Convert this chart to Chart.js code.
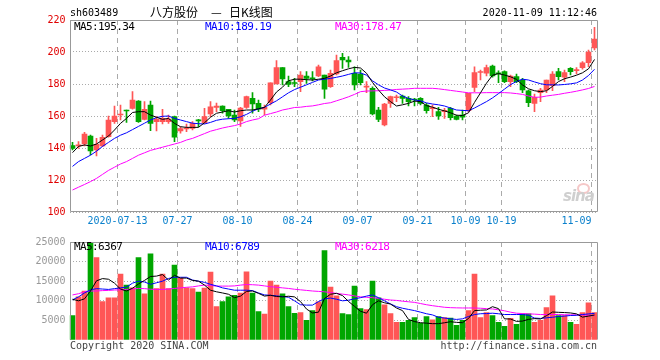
<!DOCTYPE html>
<html>
<head>
<meta charset="utf-8">
<title>八方股份 日K线图</title>
<script src="https://cdn.jsdelivr.net/npm/chart.js@4.4.1/dist/chart.umd.min.js"></script>
<style>
  body { margin: 0; background: #fff; }
  #box { position: relative; width: 660px; height: 360px; overflow: hidden; background: #fff; }
  #box canvas { position: absolute; left: 0; }
  .txt { position: absolute; font: 10px "DejaVu Sans Mono", monospace; line-height: 10px; white-space: pre; color: #000; }
  .ma { font-size: 11px; line-height: 11px; letter-spacing: -0.6px; }
  .cjk { font: 12px "Noto Sans CJK SC", sans-serif; line-height: 12px; }
  .foot { color: #444; }
</style>
</head>
<body>
<div id="box">
  <canvas id="kline" width="660" height="232" style="top:0"></canvas>
  <canvas id="vol" width="660" height="128" style="top:232px"></canvas>

  <div class="txt" style="left:70px;top:8px">sh603489</div>
  <div class="txt cjk" style="left:150px;top:6px">八方股份</div>
  <div class="txt cjk" style="left:211px;top:6px">—</div>
  <div class="txt cjk" style="left:229px;top:6px">日K线图</div>
  <div class="txt" style="right:63px;top:8px">2020-11-09 11:12:46</div>

  <div class="txt ma" id="ma5Txt" style="left:74px;top:21px;color:#000"></div>
  <div class="txt ma" id="ma10Txt" style="left:205px;top:21px;color:#0000ff"></div>
  <div class="txt ma" id="ma30Txt" style="left:335px;top:21px;color:#ff00ff"></div>

  <div class="txt ma" id="vma5Txt" style="left:74px;top:241px;color:#000"></div>
  <div class="txt ma" id="vma10Txt" style="left:205px;top:241px;color:#0000ff"></div>
  <div class="txt ma" id="vma30Txt" style="left:335px;top:241px;color:#ff00ff"></div>

  <div style="position:absolute;left:577px;top:183px;width:9px;height:7px;border:2px solid #f5c8c8;border-radius:50%"></div>
  <div style="position:absolute;left:563px;top:189px;font:italic bold 15px 'DejaVu Sans',sans-serif;line-height:15px;color:#cfcfcf;letter-spacing:-1px">sina</div>

  <div class="txt foot" style="left:70px;top:341px">Copyright 2020 SINA.COM</div>
  <div class="txt foot" style="right:63px;top:341px">http://finance.sina.com.cn</div>
</div>

<script>
// ===================== 数据 =====================
var dates = [
  "2020-07-01","2020-07-02","2020-07-03","2020-07-06","2020-07-07","2020-07-08","2020-07-09","2020-07-10",
  "2020-07-13","2020-07-14","2020-07-15","2020-07-16","2020-07-17","2020-07-20","2020-07-21","2020-07-22",
  "2020-07-23","2020-07-24","2020-07-27","2020-07-28","2020-07-29","2020-07-30","2020-07-31",
  "2020-08-03","2020-08-04","2020-08-05","2020-08-06","2020-08-07","2020-08-10","2020-08-11","2020-08-12",
  "2020-08-13","2020-08-14","2020-08-17","2020-08-18","2020-08-19","2020-08-20","2020-08-21","2020-08-24",
  "2020-08-25","2020-08-26","2020-08-27","2020-08-28","2020-08-31",
  "2020-09-01","2020-09-02","2020-09-03","2020-09-04","2020-09-07","2020-09-08","2020-09-09","2020-09-10",
  "2020-09-11","2020-09-14","2020-09-15","2020-09-16","2020-09-17","2020-09-18","2020-09-21","2020-09-22",
  "2020-09-23","2020-09-24","2020-09-25","2020-09-28","2020-09-29","2020-09-30",
  "2020-10-09","2020-10-12","2020-10-13","2020-10-14","2020-10-15","2020-10-16","2020-10-19","2020-10-20",
  "2020-10-21","2020-10-22","2020-10-23","2020-10-26","2020-10-27","2020-10-28","2020-10-29","2020-10-30",
  "2020-11-02","2020-11-03","2020-11-04","2020-11-05","2020-11-06","2020-11-09"
];

// 横轴刻度
var tickDates = ["2020-07-13","2020-07-27","2020-08-10","2020-08-24","2020-09-07","2020-09-21","2020-10-09","2020-10-19","2020-11-09"];
var tickTexts = ["2020-07-13","07-27","08-10","08-24","09-07","09-21","10-09","10-19","11-09"];

// K线 开高低收
var opens = [
  141.5, 141.3, 142.5, 147.5, 138.75, 141.25, 147.1, 156.5, 160.6, 163.5,
  164.8, 169.4, 157.9, 166.9, 156.5, 156.5, 156.5, 159.6, 150.6, 151.9,
  152.3, 157.5, 155.8, 161.25, 165.4, 166.25, 164.2, 160.6, 157, 165.4,
  171, 167.9, 164.2, 168.3, 180, 190.2, 181.5, 180.9, 181.5, 185,
  183.8, 185, 185.6, 178.3, 186.25, 196.7, 195, 186.7, 186.25, 178,
  177.3, 163.75, 154.4, 167.9, 171.4, 172.5, 171, 170.6, 171, 166.9,
  164.6, 162.7, 162.7, 164.8, 160, 160.6, 163.3, 177.9, 187.2, 186.7,
  191.25, 186.9, 187.7, 181.5, 184.6, 182.5, 175.8, 167.9, 174.6, 176.25,
  179, 187.7, 184.2, 189.8, 188.4, 190.2, 193.3, 202.5
];
var highs = [
  143.5, 144, 149.8, 148.1, 146, 148.1, 160, 166.25, 166.9, 163.75,
  175.2, 169.6, 169, 169.4, 159.6, 164.2, 160.6, 160, 153.3, 155,
  156.5, 157.9, 164.8, 169, 168, 166.3, 164.2, 163.75, 165.4, 172.5,
  174.6, 170, 166.9, 180.8, 194.6, 190.2, 185, 183.5, 187.7, 187.7,
  187.7, 191.9, 185.6, 188.75, 198.1, 199.2, 197.1, 190.8, 188.75, 181.5,
  178.3, 165.4, 167.9, 172.5, 173.1, 173.1, 172.1, 171, 171.5, 167.9,
  166.9, 165.4, 164.8, 165.4, 160.6, 163.75, 174.2, 190.8, 188.75, 191.9,
  191.9, 188.3, 188.3, 185.6, 186.25, 183.5, 176.25, 173.75, 177.3, 182.5,
  187.7, 189.8, 188.75, 190.2, 190.2, 194, 201.25, 215.4
];
var lows = [
  138.75, 139.8, 141.25, 135.6, 135, 140.8, 146.7, 155.4, 157.5, 156,
  164.2, 156, 157.5, 150.8, 150.6, 155, 155.4, 144, 149.2, 150.2,
  151.25, 153.3, 155.4, 159.6, 162.7, 161.7, 158.5, 156.5, 153.5, 164.8,
  161.7, 162.7, 160.6, 166.9, 180, 179.4, 178.3, 178.3, 175.2, 180.4,
  181.9, 184.6, 171, 177.9, 185.6, 189.8, 190.4, 176.25, 179.4, 174.6,
  160.6, 156.5, 153.75, 165.4, 169, 167.9, 166.25, 166.25, 167, 161.7,
  159.6, 157.9, 158.5, 157.5, 157.5, 157.5, 162.7, 175.2, 182.5, 185,
  184.2, 180.8, 180.8, 178.3, 180.8, 174.6, 165.8, 162.7, 169, 174.6,
  175.8, 182.5, 181.5, 185.6, 186.25, 189.2, 190.8, 201.25
];
var closes = [
  139.8, 141.9, 148.75, 138.1, 142.3, 146.7, 157.5, 160, 161.2, 163.1,
  170, 156.5, 164.2, 155.4, 157.9, 158.5, 158.1, 146.7, 152.1, 152.3,
  155.4, 157, 159.6, 165.8, 166.25, 163.3, 160, 157.5, 165, 172.1,
  167.5, 164.2, 165.4, 180.8, 190.2, 183.1, 179.8, 180.3, 185.6, 183.5,
  183.2, 190.8, 176.7, 186.7, 194.6, 195, 193.75, 179.4, 180.8, 178.6,
  161.25, 157.9, 167.5, 172.1, 172, 171, 169, 170, 167.9, 163.3,
  165.2, 160, 163.5, 159, 157.9, 159.2, 174.2, 187.1, 187.8, 190.2,
  185, 186.3, 181.5, 185, 181.5, 176.25, 168.3, 171.7, 176.25, 182.5,
  186.25, 184.6, 187.1, 187.7, 188.8, 193.3, 200, 208.1
];

// 均线
var ma5 = [
  137.1, 141, 141.9, 141.25, 142.5, 145, 147.5, 151.25, 155.4, 158.5,
  162.2, 162.7, 162.7, 160.6, 159.2, 157.9, 158.5, 155.4, 153.3, 152.9,
  152.9, 152.9, 155.8, 159.2, 161.7, 162.5, 163.3, 162.5, 163.3, 163.75,
  163.75, 164.5, 165.4, 170, 175, 178, 182, 183, 183, 182.7,
  182.5, 183, 183.5, 185, 187, 188.3, 189.5, 190.4, 190, 186.7,
  181, 176.25, 172, 169, 166.25, 167, 167.9, 169.3, 169, 166.5,
  165.5, 164.2, 163.2, 162, 160.5, 160.3, 162, 168.5, 174.5, 180.5,
  185.5, 186.5, 185.6, 184.5, 182.9, 179.4, 177, 175.8, 175.2, 175.8,
  178.5, 181.5, 183.3, 184.3, 185.5, 187, 189.5, 195.34
];
var ma10 = [
  128.5, 131.5, 133.5, 135.5, 138, 141, 143.5, 146, 148, 149.5,
  151.5, 153.5, 155.5, 157.5, 159, 159.8, 160, 158.5, 157.5, 156.5,
  155.5, 155.2, 155, 156, 157.3, 158, 158.3, 158.5, 159.5, 161,
  163, 164.5, 165.4, 167.5, 169.5, 172, 174.5, 176.5, 178, 179.5,
  181, 182.5, 183, 183.5, 184.2, 185, 186, 187, 186.9, 185.5,
  182, 179.5, 177.5, 176.3, 175, 172.5, 171, 170, 169.5, 168.2,
  167.5, 167, 166.25, 165, 163.75, 163.5, 163.3, 165, 167, 169,
  171.3, 174, 176.8, 179.6, 181.6, 183, 182.5, 181.3, 180.2, 179.5,
  179.5, 179.4, 179.7, 180.1, 180.7, 182.5, 185.3, 189.19
];
var ma30 = [
  113.75, 115.5, 117.2, 119, 121, 123.5, 126, 128, 130, 131.5,
  133.5, 135.5, 137, 138.5, 139.5, 140.5, 141.5, 142.5, 143.5, 145,
  146, 147.5, 149, 150.5, 151.5, 152.5, 153.3, 154, 155, 156.5,
  157.5, 158.3, 160.5, 161.5, 162.5, 163.75, 164.5, 165.3, 165.5, 166,
  166.3, 167, 167.8, 168.3, 169.5, 170.7, 172, 173.5, 175.2, 175.6,
  175.7, 175.8, 176, 176.2, 176.6, 176.8, 177, 177.3, 177.3, 177.3,
  177.3, 177, 176.5, 176, 175.5, 175, 174.5, 174.5, 174.5, 174.6,
  174.6, 174.6, 174.6, 174.4, 174, 173.5, 172.5, 171.7, 171.8, 172.5,
  173, 173.5, 174.2, 174.8, 175.5, 176.3, 177.2, 178.47
];

// 成交量(手)
var volumes = [
  6250, 11000, 12500, 24800, 21000, 9800, 10750, 10750, 16800, 14000,
  13300, 21000, 11800, 22000, 13100, 16800, 13100, 19100, 15800, 13300,
  13100, 12250, 13250, 17300, 8500, 9800, 11000, 11400, 12000, 17400,
  12000, 7250, 6600, 15000, 14000, 11800, 8500, 6800, 7000, 5000,
  7500, 9750, 22800, 13500, 11250, 6750, 6500, 13750, 8000, 7750,
  15000, 10750, 9000, 6750, 4500, 4500, 5000, 5750, 4250, 6000,
  5150, 6000, 5750, 5600, 3750, 5000, 7500, 16800, 5750, 7000,
  6250, 4500, 3500, 5500, 4000, 6650, 6650, 4500, 5000, 8300,
  11250, 6250, 6250, 4500, 4000, 7000, 9500, 7000
];
var vma5 = [
  10400, 10000, 10500, 12500, 15100, 15667, 15500, 14500, 13000, 12500,
  13200, 14300, 15200, 16200, 16300, 16700, 15300, 16500, 15800, 15800,
  15200, 15000, 14000, 12700, 12300, 12000, 11667, 10800, 11200, 12400,
  12500, 11900, 11200, 11400, 11100, 11000, 11167, 11000, 9800, 7900,
  6900, 7100, 10600, 11667, 11900, 11333, 9833, 8583, 7333, 6833,
  9000, 10000, 9500, 9167, 8167, 7500, 5250, 4700, 4417, 4300,
  4167, 4167, 4400, 4667, 4500, 4417, 5500, 7500, 7600, 7667,
  8500, 8000, 5400, 5350, 4750, 4830, 5260, 5460, 5360, 6220,
  7140, 7060, 7000, 6900, 6667, 5833, 6100, 6367
];
var vma10 = [
  10250, 11000, 12000, 12800, 13100, 13000, 12900, 13100, 13300, 13500,
  14500, 15000, 14800, 14200, 14600, 15000, 15700, 16000, 16000, 16000,
  15300, 15000, 14700, 14200, 13800, 13300, 13000, 12700, 12700, 12700,
  12600, 12000, 11500, 11400, 11250, 11100, 10900, 10000, 9000, 8900,
  8900, 9800, 10500, 10700, 10400, 10000, 10150, 10500, 10800, 11200,
  11500, 10800, 10000, 9200, 8500, 8100, 7800, 7500, 7100, 6700,
  6400, 5800, 5600, 5400, 5250, 5400, 6000, 6500, 6700, 6750,
  6833, 6700, 6500, 6500, 6500, 6500, 6300, 5600, 5500, 5667,
  5800, 6000, 6100, 6250, 6300, 6500, 6650, 6789
];
var vma30 = [
  11500, 11800, 12300, 12500, 12500, 12600, 12650, 12750, 12800, 12900,
  13000, 13150, 13100, 12950, 12900, 12900, 13000, 13150, 13300, 13450,
  13550, 13800, 14000, 13900, 13750, 13750, 13750, 13800, 14000, 14150,
  14100, 14000, 13800, 13600, 13450, 13300, 13150, 12950, 12800, 12650,
  12500, 12400, 12300, 12100, 11900, 11700, 11500, 11250, 11000, 10900,
  10800, 10600, 10400, 10200, 10100, 9900, 9750, 9600, 9300, 9000,
  8750, 8550, 8350, 8250, 8200, 8170, 8170, 8170, 8100, 8000,
  7920, 7700, 7450, 7100, 6833, 6750, 6667, 6600, 6500, 6500,
  6500, 6500, 6450, 6420, 6400, 6400, 6300, 6218
];

// ===================== 样式 =====================
var UP = "#ff5656";
var DOWN = "#00a600";
var MONO = '"DejaVu Sans Mono", monospace';

function isUp(i) { return closes[i] >= opens[i]; }
function barColor(c) { return isUp(c.dataIndex) ? UP : DOWN; }

var gridAt = new Set(tickDates.map(function (d) { return dates.indexOf(d); }));
var tickAt = {};
tickDates.forEach(function (d, j) { tickAt[dates.indexOf(d)] = tickTexts[j]; });

// 外框
var frame = {
  id: "frame",
  afterDraw: function (chart, args, opts) {
    var ctx = chart.ctx, a = chart.chartArea;
    var l = Math.round(a.left) + 0.5, r = a.right, t = a.top + 0.5, b = a.bottom - 0.5;
    ctx.save();
    ctx.strokeStyle = "#999";
    ctx.lineWidth = 1;
    ctx.beginPath();
    ctx.moveTo(l, b);
    ctx.lineTo(l, t);
    ctx.lineTo(r, t);
    ctx.lineTo(r, b);
    if (opts.bottom) ctx.lineTo(l, b);
    ctx.stroke();
    ctx.restore();
  }
};

function xScale(showLabels) {
  return {
    offset: true,
    grid: {
      offset: true,
      drawTicks: false,
      lineWidth: 1,
      color: function (c) { return gridAt.has(c.index) ? "#aaa" : "rgba(0,0,0,0)"; },
      borderDash: [5, 4]
    },
    border: { display: false, dash: [5, 4] },
    ticks: {
      display: showLabels,
      autoSkip: false,
      maxRotation: 0,
      minRotation: 0,
      align: "inner",
      labelOffset: -3,
      padding: 3,
      color: "#0a80cc",
      font: { family: MONO, size: 10 },
      callback: function (v, i) { return tickAt[i] || ""; }
    },
    afterFit: function (s) { s.height = 20; }
  };
}

function maLine(data, color) {
  return {
    type: "line",
    data: data,
    borderColor: color,
    borderWidth: 1,
    pointRadius: 0,
    tension: 0,
    order: 0
  };
}

// ===================== K线图 =====================
var kline = new Chart(document.getElementById("kline").getContext("2d"), {
  type: "bar",
  data: {
    labels: dates,
    datasets: [
      maLine(ma5, "#000000"),
      maLine(ma10, "#0000ff"),
      maLine(ma30, "#ff00ff"),
      {
        data: lows.map(function (l, i) { return [l, highs[i]]; }),
        backgroundColor: barColor,
        barThickness: 1,
        grouped: false,
        order: 1
      },
      {
        data: opens.map(function (o, i) { return [o, closes[i]]; }),
        backgroundColor: barColor,
        barThickness: 5,
        minBarLength: 1,
        grouped: false,
        order: 1
      }
    ]
  },
  options: {
    responsive: false,
    animation: false,
    events: [],
    layout: { padding: { left: 0, right: 62.5, top: 20, bottom: 0 } },
    plugins: { legend: { display: false }, tooltip: { enabled: false }, frame: { bottom: true } },
    scales: {
      x: xScale(true),
      y: {
        min: 100,
        max: 220,
        grid: { drawTicks: false, color: "#aaa", borderDash: [1, 2] },
        border: { display: false, dash: [1, 2] },
        ticks: { stepSize: 20, padding: 4, color: "#e00000", font: { family: MONO, size: 10 } },
        afterFit: function (s) { s.width = 69.5; }
      }
    }
  },
  plugins: [frame]
});

// ===================== 成交量 =====================
var vol = new Chart(document.getElementById("vol").getContext("2d"), {
  type: "bar",
  data: {
    labels: dates,
    datasets: [
      maLine(vma5, "#000000"),
      maLine(vma10, "#0000ff"),
      maLine(vma30, "#ff00ff"),
      {
        data: volumes,
        backgroundColor: barColor,
        barThickness: 5,
        grouped: false,
        order: 1
      }
    ]
  },
  options: {
    responsive: false,
    animation: false,
    events: [],
    layout: { padding: { left: 0, right: 62.5, top: 8, bottom: 0 } },
    plugins: { legend: { display: false }, tooltip: { enabled: false }, frame: { bottom: false } },
    scales: {
      x: xScale(false),
      y: {
        min: 0,
        max: 25000,
        grid: {
          drawTicks: false,
          color: function (c) { return c.tick && c.tick.value === 0 ? "rgba(0,0,0,0)" : "#aaa"; },
          borderDash: [1, 2]
        },
        border: { display: false, dash: [1, 2] },
        ticks: {
          stepSize: 5000,
          padding: 4,
          color: "#999",
          font: { family: MONO, size: 10 },
          callback: function (v) { return v === 0 ? "" : v; }
        },
        afterFit: function (s) { s.width = 69.5; }
      }
    }
  },
  plugins: [frame]
});

// 均线数值
document.getElementById("ma5Txt").textContent = "MA5:" + ma5[ma5.length - 1].toFixed(2);
document.getElementById("ma10Txt").textContent = "MA10:" + ma10[ma10.length - 1].toFixed(2);
document.getElementById("ma30Txt").textContent = "MA30:" + ma30[ma30.length - 1].toFixed(2);
document.getElementById("vma5Txt").textContent = "MA5:" + Math.round(vma5[vma5.length - 1]);
document.getElementById("vma10Txt").textContent = "MA10:" + Math.round(vma10[vma10.length - 1]);
document.getElementById("vma30Txt").textContent = "MA30:" + Math.round(vma30[vma30.length - 1]);
</script>
</body>
</html>
